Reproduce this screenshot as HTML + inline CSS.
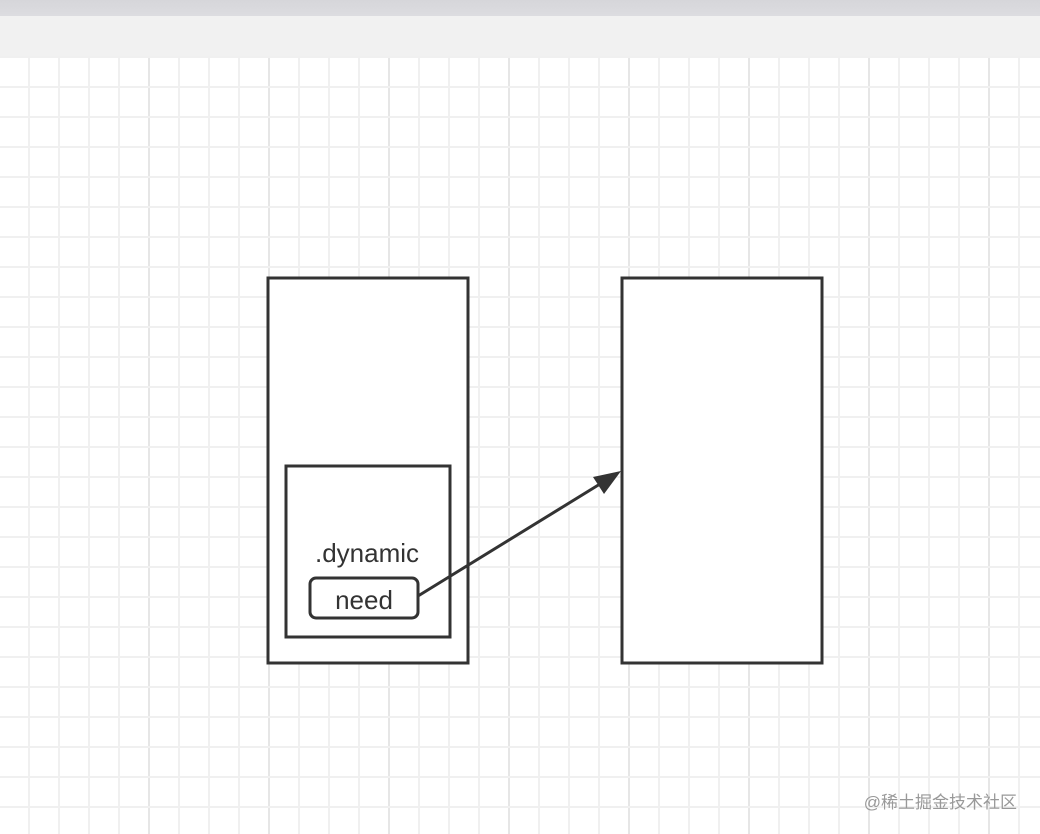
<!DOCTYPE html>
<html><head><meta charset="utf-8"><style>
html,body{margin:0;padding:0;width:1040px;height:834px;overflow:hidden;background:#fff}
</style></head><body>
<svg width="1040" height="834" viewBox="0 0 1040 834">
<defs>
<linearGradient id="tb" x1="0" y1="0" x2="0" y2="1"><stop offset="0" stop-color="#d6d6da"/><stop offset="1" stop-color="#dcdce0"/></linearGradient>
</defs>
<rect x="0" y="0" width="1040" height="16" fill="url(#tb)"/>
<rect x="0" y="16" width="1040" height="40" fill="#f1f1f1"/>
<g id="grid"></g>
<g fill="none" stroke="#333" stroke-width="3">
<rect x="268" y="278" width="200" height="385" fill="#fff"/>
<rect x="286" y="466" width="164" height="171" fill="#fff"/>
<rect x="310" y="578" width="108" height="40" rx="6" fill="#fff"/>
<rect x="622" y="278" width="200" height="385" fill="#fff"/>
<line x1="418" y1="596" x2="600" y2="484"/>
</g>
<polygon points="621,471 593,477 604,494" fill="#333"/>
<text x="367" y="562" text-anchor="middle" font-family="Liberation Sans, sans-serif" font-size="26" fill="#333">.dynamic</text>
<text x="364" y="609" text-anchor="middle" font-family="Liberation Sans, sans-serif" font-size="26" fill="#333">need</text>
<text x="1017" y="808" text-anchor="end" font-family="Liberation Sans, 'Noto Sans CJK SC', sans-serif" font-size="17" fill="#999">@稀土掘金技术社区</text>
</svg>
<script>
var g=document.getElementById('grid');var ns='http://www.w3.org/2000/svg';
for(var x=29;x<1040;x+=30){var l=document.createElementNS(ns,'line');


var maj=((x-29)%120===0)&&x!==29;
l.setAttribute('x1',x);l.setAttribute('x2',x);l.setAttribute('y1',56);l.setAttribute('y2',834);
l.setAttribute('stroke',maj?'#e6e6e6':'#f0f0f0');l.setAttribute('stroke-width','2');g.appendChild(l);}
for(var y=57;y<834;y+=30){var h=document.createElementNS(ns,'line');


var mj=((y-176)%120===0);
h.setAttribute('x1',0);h.setAttribute('x2',1040);h.setAttribute('y1',y);h.setAttribute('y2',y);
h.setAttribute('stroke',mj?'#e6e6e6':'#f0f0f0');h.setAttribute('stroke-width','2');g.appendChild(h);}
</script>
</body></html>
